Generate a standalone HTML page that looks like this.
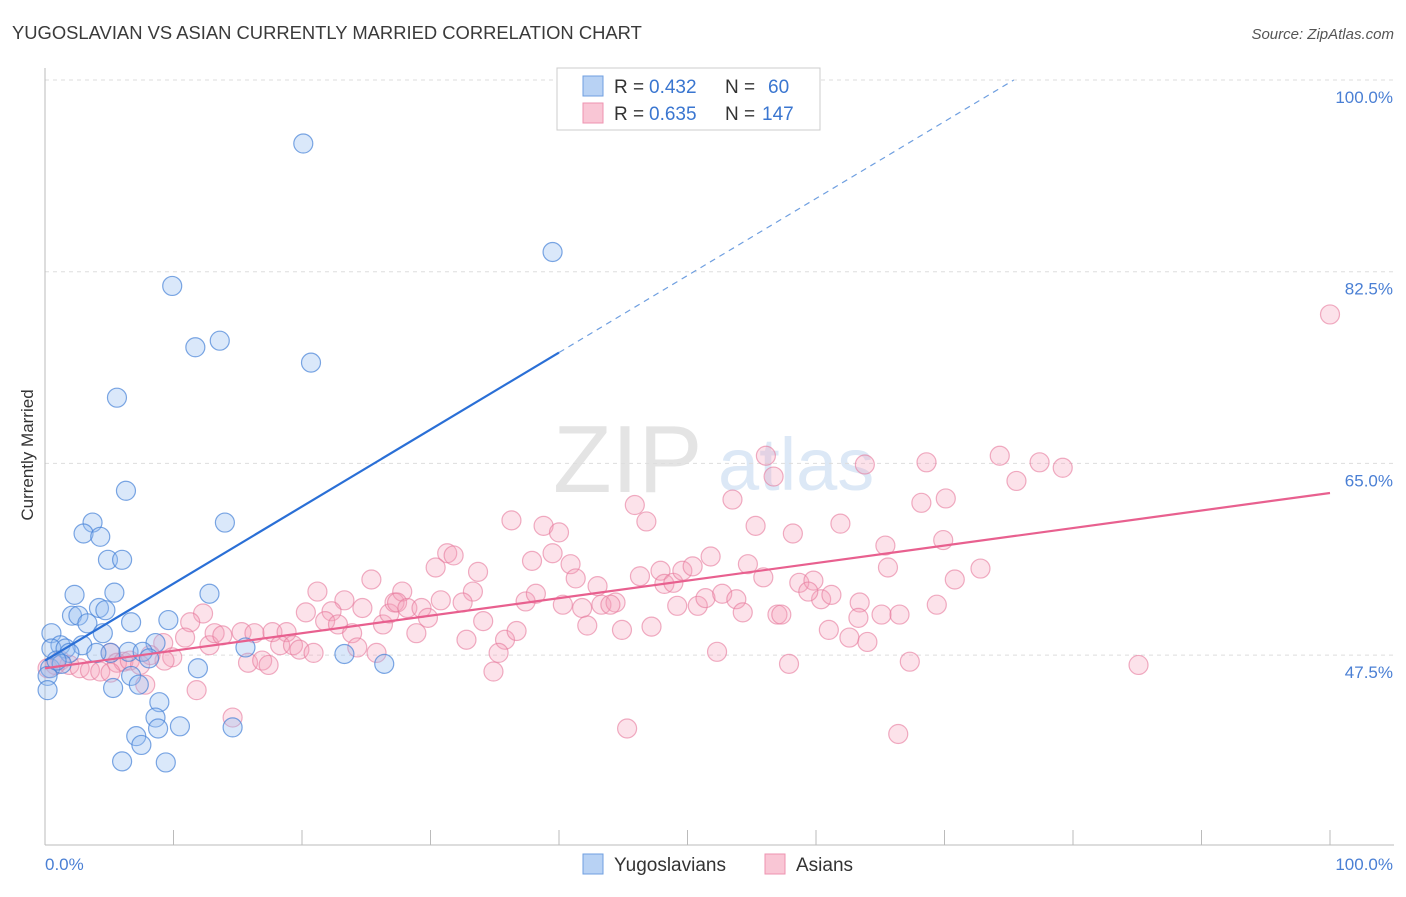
<!DOCTYPE html>
<html><head><meta charset="utf-8"><style>
body{margin:0;background:#fff;font-family:"Liberation Sans",sans-serif;}
svg text{font-family:"Liberation Sans",sans-serif;}
</style></head><body>
<svg id="chart" width="1406" height="892" viewBox="0 0 1406 892" xmlns="http://www.w3.org/2000/svg">
<text x="12" y="39" font-size="18.4" fill="#3a3a3a">YUGOSLAVIAN VS ASIAN CURRENTLY MARRIED CORRELATION CHART</text>
<text x="1394" y="39" font-size="15" fill="#555" text-anchor="end" font-style="italic">Source: ZipAtlas.com</text>
<g>
<text x="553" y="492" font-size="96" fill="#e4e4e4" font-family="Liberation Serif, serif">ZIP</text>
<text x="718" y="490" font-size="74" fill="#dce8f6">atlas</text>
</g>
<g id="grid"></g>
<line x1="45" y1="68" x2="45" y2="845" stroke="#bbb" stroke-width="1"/>
<line x1="45" y1="845" x2="1394" y2="845" stroke="#bbb" stroke-width="1"/>
<g id="xticks"></g>
<text transform="translate(33,455) rotate(-90)" font-size="17" fill="#333" text-anchor="middle">Currently Married</text>
<text x="45" y="870" font-size="17" fill="#4a7fd4">0.0%</text>
<text x="1393" y="870" font-size="17" fill="#4a7fd4" text-anchor="end">100.0%</text>
<g id="pinkpts"></g>
<g id="bluepts"></g>
<g id="lines"></g>
<g>
<rect x="557" y="68" width="263" height="62" fill="#fff" stroke="#ccc"/>
<rect x="583" y="76" width="20" height="20" fill="#b8d2f4" stroke="#6f9fe0"/>
<rect x="583" y="103" width="20" height="20" fill="#f9c6d5" stroke="#ee93b0"/>
<text x="614" y="93" font-size="19" fill="#333">R =</text>
<text x="649" y="93" font-size="19" fill="#3a76d0">0.432</text>
<text x="725" y="93" font-size="19" fill="#333">N =</text>
<text x="768" y="93" font-size="19" fill="#3a76d0">60</text>
<text x="614" y="120" font-size="19" fill="#333">R =</text>
<text x="649" y="120" font-size="19" fill="#3a76d0">0.635</text>
<text x="725" y="120" font-size="19" fill="#333">N =</text>
<text x="762" y="120" font-size="19" fill="#3a76d0">147</text>
</g>
<g>
<rect x="583" y="854" width="20" height="20" fill="#b8d2f4" stroke="#6f9fe0"/>
<text x="614" y="871" font-size="19" fill="#333">Yugoslavians</text>
</g>
<g>
<rect x="765" y="854" width="20" height="20" fill="#f9c6d5" stroke="#ee93b0"/>
<text x="796" y="871" font-size="19" fill="#333">Asians</text>
</g>
</svg>
<script>
const yTicks = [47.5, 65.0, 82.5, 100.0];
const yTickLabels = ["47.5%", "65.0%", "82.5%", "100.0%"];
const xTickValues = [0,10,20,30,40,50,60,70,80,90,100];
const blueX = [20.1,39.5,9.9,11.7,13.6,20.7,5.6,6.3,14.0,3.7,3.0,4.3,4.9,6.0,2.3,5.4,12.8,2.1,2.6,4.2,4.7,3.3,6.7,9.6,0.5,4.5,1.2,2.9,0.5,1.6,1.9,5.1,4.0,6.5,8.6,7.6,8.1,15.6,23.3,26.4,11.9,0.4,0.2,1.3,6.7,7.3,5.3,8.9,8.6,10.5,14.6,8.8,7.1,7.5,6.0,9.4,0.9,0.2];
const blueY = [94.2,84.3,81.2,75.6,76.2,74.2,71.0,62.5,59.6,59.6,58.6,58.3,56.2,56.2,53.0,53.2,53.1,51.1,51.1,51.8,51.6,50.4,50.5,50.7,49.5,49.5,48.4,48.4,48.1,48.1,47.7,47.7,47.7,47.8,48.6,47.8,47.2,48.2,47.6,46.7,46.3,46.3,45.6,46.7,45.6,44.8,44.5,43.2,41.8,41.0,40.9,40.8,40.1,39.3,37.8,37.7,47.0,44.3];
const pinkX = [25.4,21.2,23.3,24.7,20.3,22.3,21.8,22.8,23.9,26.3,26.8,27.2,12.3,11.3,10.9,12.8,13.2,13.8,15.3,16.3,17.7,18.8,18.3,19.3,19.8,20.9,24.3,25.8,15.8,16.9,17.4,9.2,9.9,9.3,5.1,5.6,6.1,7.8,11.8,14.6,1.2,1.9,2.7,3.5,4.3,5.1,6.6,8.2,7.4,0.2,0.8,36.3,38.8,40.0,45.9,46.8,53.5,55.3,56.1,56.7,31.3,31.8,37.9,39.5,40.9,41.3,30.4,33.7,33.3,27.8,27.4,28.2,29.3,29.8,30.8,32.5,34.1,28.9,32.8,35.8,36.7,35.3,34.9,37.4,38.2,40.3,41.8,42.2,43.0,43.3,44.4,44.0,44.9,46.3,47.2,47.9,48.2,48.9,49.6,50.4,51.8,49.2,50.8,51.4,52.7,53.8,54.3,54.7,55.9,57.0,52.3,45.3,57.9,57.3,58.7,60.4,61.0,59.8,59.4,61.9,61.2,62.6,63.4,63.8,64.0,63.3,65.1,65.6,65.4,66.5,67.3,66.4,68.2,70.1,69.4,70.8,69.9,72.8,74.3,75.6,77.4,79.2,68.6,85.1,100.0,58.2];
const pinkY = [54.4,53.3,52.5,51.8,51.4,51.5,50.6,50.3,49.5,50.3,51.3,52.3,51.3,50.5,49.1,48.4,49.5,49.3,49.6,49.5,49.6,49.6,48.4,48.4,48.0,47.7,48.2,47.7,46.8,47.0,46.6,48.6,47.3,47.0,47.7,46.8,46.9,44.8,44.3,41.8,47.0,46.6,46.3,46.1,46.0,45.9,47.0,47.5,46.6,46.3,46.6,59.8,59.3,58.7,61.2,59.7,61.7,59.3,65.7,63.8,56.8,56.6,56.1,56.8,55.8,54.5,55.5,55.1,53.3,53.3,52.3,51.8,51.8,50.9,52.5,52.3,50.6,49.5,48.9,48.9,49.7,47.7,46.0,52.4,53.1,52.1,51.8,50.2,53.8,52.1,52.3,52.1,49.8,54.7,50.1,55.2,54.0,54.1,55.2,55.6,56.5,52.0,52.0,52.7,53.1,52.6,51.4,55.8,54.6,51.2,47.8,40.8,46.7,51.2,54.1,52.6,49.8,54.3,53.3,59.5,53.0,49.1,52.3,64.9,48.7,50.9,51.2,55.5,57.5,51.2,46.9,40.3,61.4,61.8,52.1,54.4,58.0,55.4,65.7,63.4,65.1,64.6,65.1,46.6,78.6,58.6];
const blueTrend = [47.0, 0.703];
const pinkTrend = [46.3, 0.16];

const NS = "http://www.w3.org/2000/svg";
function sx(v){ return 45 + v * 12.85; }
function sy(v){ return 80 + (100 - v) / 17.5 * 191.7; }
function mk(tag, attrs, parent){ const e = document.createElementNS(NS, tag); for (const k in attrs) e.setAttribute(k, attrs[k]); parent.appendChild(e); return e; }

const grid = document.getElementById('grid');
yTicks.forEach((t, i) => {
  const l = mk('line', {x1: 45, x2: 1394, y1: sy(t), y2: sy(t), stroke: '#ddd', 'stroke-dasharray': '4,4'}, grid);
  
  
  const tx = mk('text', {x: 1393, y: sy(t) + 23, 'font-size': 17, fill: '#4a7fd4', 'text-anchor': 'end'}, grid);
  tx.textContent = yTickLabels[i];
  
  
});
const xt = document.getElementById('xticks');
xTickValues.forEach(v => {
  const l = mk('line', {x1: sx(v), x2: sx(v), y1: 830, y2: 845, stroke: '#bbb'}, xt);
  
  
});
const pg = document.getElementById('pinkpts');
pinkX.forEach((x, i) => {
  const c = mk('circle', {cx: sx(x), cy: sy(pinkY[i]), r: 9.5, fill: 'rgba(244,160,185,0.3)', stroke: 'rgba(230,120,155,0.6)', 'stroke-width': 1.2}, pg);
  
  
});
const bg = document.getElementById('bluepts');
blueX.forEach((x, i) => {
  const c = mk('circle', {cx: sx(x), cy: sy(blueY[i]), r: 9.5, fill: 'rgba(150,190,240,0.35)', stroke: 'rgba(70,130,215,0.7)', 'stroke-width': 1.2}, bg);
  
  
});
const lg = document.getElementById('lines');
const pl = mk('line', {x1: sx(0), y1: sy(pinkTrend[0]), x2: sx(100), y2: sy(pinkTrend[0] + pinkTrend[1] * 100), stroke: '#e8608f', 'stroke-width': 2.2}, lg);


const bEnd = 40;
const bl = mk('line', {x1: sx(0), y1: sy(blueTrend[0]), x2: sx(bEnd), y2: sy(blueTrend[0] + blueTrend[1] * bEnd), stroke: '#2a6fd6', 'stroke-width': 2.2}, lg);


const xTop = (100 - blueTrend[0]) / blueTrend[1];
const bd = mk('line', {x1: sx(bEnd), y1: sy(blueTrend[0] + blueTrend[1] * bEnd), x2: sx(xTop), y2: sy(100), stroke: '#6f9fe0', 'stroke-width': 1.2, 'stroke-dasharray': '6,5'}, lg);


</script>
</body></html>
